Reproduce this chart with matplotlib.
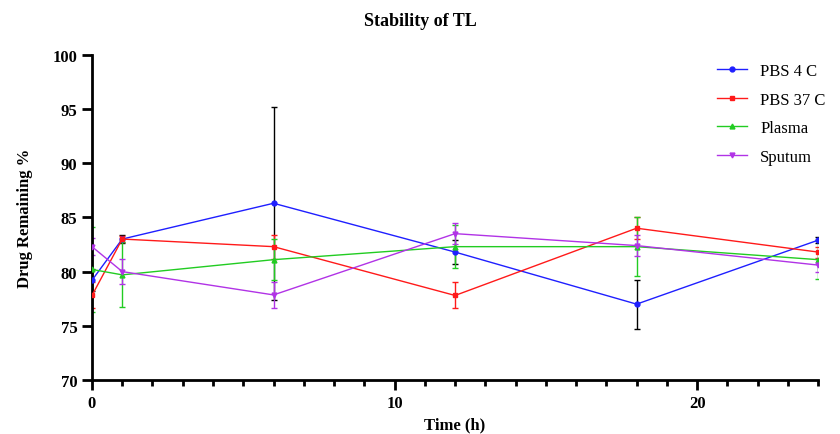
#!/usr/bin/env python3
"""Stability of TL: drug remaining over time in four media."""

import matplotlib.pyplot as plt
from matplotlib.ticker import MultipleLocator

plt.rcParams["font.family"] = ["Liberation Serif", "DejaVu Serif"]

TIME_H = [0, 1, 6, 12, 18, 24]

PBS_4C = [79.2, 83.0, 86.3, 81.8, 77.0, 82.9]
PBS_4C_SD = [1.0, 0.4, 8.9, 1.1, 2.25, 0.3]

PBS_37C = [77.8, 83.0, 82.3, 77.8, 84.0, 81.8]
PBS_37C_SD = [1.2, 0.3, 1.1, 1.2, 1.0, 0.5]

PLASMA = [80.2, 79.7, 81.1, 82.3, 82.3, 81.1]
PLASMA_SD = [3.9, 3.0, 1.9, 2.0, 2.75, 1.8]

SPUTUM = [82.3, 80.0, 77.85, 83.5, 82.4, 80.6]
SPUTUM_SD = [0.8, 1.15, 1.2, 1.0, 1.0, 0.6]

SERIES = [
    ("PBS 4 C", PBS_4C, PBS_4C_SD, "#1f1fff", "black", "o"),
    ("PBS 37 C", PBS_37C, PBS_37C_SD, "#ff1a1a", "#ff1a1a", "s"),
    ("Plasma", PLASMA, PLASMA_SD, "#22cc22", "#22cc22", "^"),
    ("Sputum", SPUTUM, SPUTUM_SD, "#b133e6", "#b133e6", "v"),
]


def main() -> None:
    fig = plt.figure(figsize=(8.4, 4.35), dpi=100)
    ax = fig.add_axes([0.1095, 0.124, 0.8645, 0.748])

    for label, values, sd, color, err_color, marker in SERIES:
        ax.errorbar(
            TIME_H, values, yerr=sd, fmt="none", ecolor=err_color,
            elinewidth=1.0, capsize=2, capthick=1.0, zorder=2,
        )
        ax.plot(
            TIME_H, values, color=color, marker=marker, markersize=3.5,
            linewidth=1.0, label=label, zorder=3,
        )

    ax.set_xlim(0, 24)
    ax.set_ylim(70, 100)
    ax.xaxis.set_major_locator(MultipleLocator(10))
    ax.xaxis.set_minor_locator(MultipleLocator(1))
    ax.yaxis.set_major_locator(MultipleLocator(5))

    for side in ("top", "right"):
        ax.spines[side].set_visible(False)
    for side in ("left", "bottom"):
        ax.spines[side].set_linewidth(2.0)
    ax.tick_params(which="major", length=7, width=2.0, labelsize=12)
    ax.tick_params(which="minor", length=4, width=2.0)
    for lbl in ax.get_xticklabels() + ax.get_yticklabels():
        lbl.set_fontweight("bold")

    ax.set_xlabel("Time (h)", fontsize=12, fontweight="bold", labelpad=4)
    ax.set_ylabel("Drug Remaining %", fontsize=12, fontweight="bold", labelpad=14)
    fig.suptitle("Stability of TL", fontsize=13, fontweight="bold", y=0.97)

    ax.legend(
        loc="upper left", bbox_to_anchor=(0.84, 1.02), frameon=False,
        fontsize=12, handlelength=1.8, labelspacing=0.75,
    )

    fig.savefig("out.png", dpi=100)


if __name__ == "__main__":
    main()
